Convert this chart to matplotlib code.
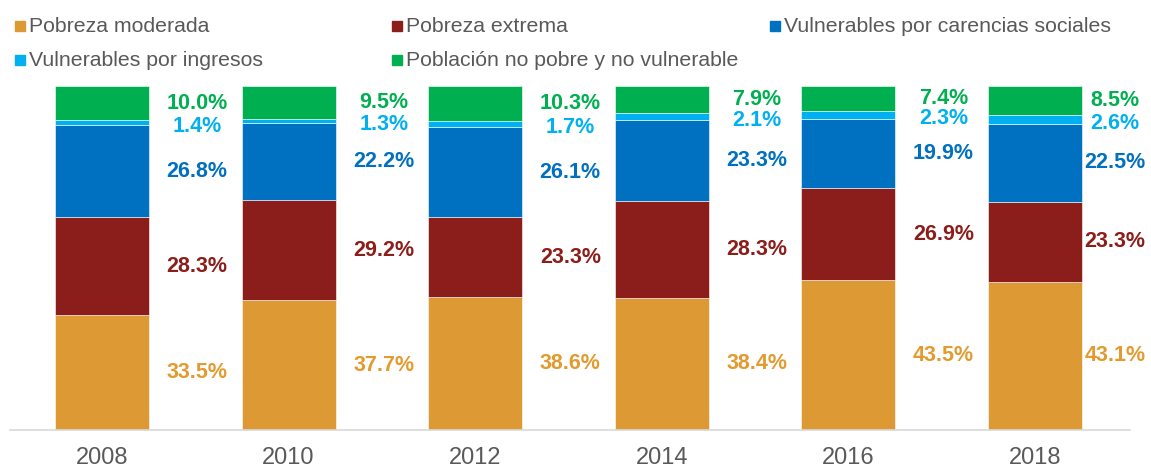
import numpy as np
import matplotlib.pyplot as plt
from matplotlib.patches import Rectangle

plt.rcParams['font.family'] = ['Liberation Sans', 'DejaVu Sans']

anios = ["2008", "2010", "2012", "2014", "2016", "2018"]
series = ["Pobreza moderada", "Pobreza extrema", "Vulnerables por carencias sociales",
          "Vulnerables por ingresos", "Población no pobre y no vulnerable"]

pobreza_moderada = [33.5, 37.7, 38.6, 38.4, 43.5, 43.1]
pobreza_extrema = [28.3, 29.2, 23.3, 28.3, 26.9, 23.3]
vuln_carencias = [26.8, 22.2, 26.1, 23.3, 19.9, 22.5]
vuln_ingresos = [1.4, 1.3, 1.7, 2.1, 2.3, 2.6]
no_pobre = [10.0, 9.5, 10.3, 7.9, 7.4, 8.5]

valores = [pobreza_moderada, pobreza_extrema, vuln_carencias, vuln_ingresos, no_pobre]
colores = ["#DD9933", "#8B1E1A", "#0070C0", "#00B0F0", "#00B050"]
colores_texto = ["#E39A2E", "#8B1E1A", "#0070C0", "#00B0F0", "#00B050"]

fig = plt.figure(figsize=(11.51, 4.68), dpi=100)
ax = fig.add_axes([10 / 1151, 38 / 468, 1120 / 1151, 344 / 468])

x = np.arange(len(anios))
ancho = 0.504
base = np.zeros(len(anios))
for i, vals in enumerate(valores):
    vals = np.array(vals)
    ax.bar(x, vals, ancho, bottom=base, color=colores[i], edgecolor="white", linewidth=0.4)
    centros = base + vals / 2
    for j in range(len(anios)):
        dx = 0.51 if j < 5 else 0.43
        dy = 0.0
        if i == 3:
            dy = -1.0  # ingresos un poco abajo
        ax.text(x[j] + dx, centros[j] + dy, f"{vals[j]:.1f}%", color=colores_texto[i],
                fontsize=15.5, fontweight="bold", ha="center", va="center")
    base = base + vals

ax.set_xlim(-0.493, 5.51)
ax.set_ylim(0, 100)
ax.set_xticks(x)
ax.set_xticklabels(anios, fontsize=17, color="#595959")
ax.tick_params(axis="x", length=0, pad=12)
ax.set_yticks([])
for lado in ["top", "right", "left"]:
    ax.spines[lado].set_visible(False)
ax.spines["bottom"].set_color("#D9D9D9")
ax.spines["bottom"].set_linewidth(1.2)

# leyenda manual
pos_leyenda = [(15, 26), (392, 26), (770, 26), (15, 60), (392, 60)]
for i, nombre in enumerate(series):
    px, py = pos_leyenda[i]
    fig.patches.append(Rectangle((px / 1151, 1 - (py + 5) / 468), 10 / 1151, 10 / 468,
                                 transform=fig.transFigure, color=colores[i]))
    fig.text((px + 14) / 1151, 1 - py / 468, nombre, fontsize=15.3, color="#595959",
             ha="left", va="center")

fig.savefig("out.png", dpi=100)
